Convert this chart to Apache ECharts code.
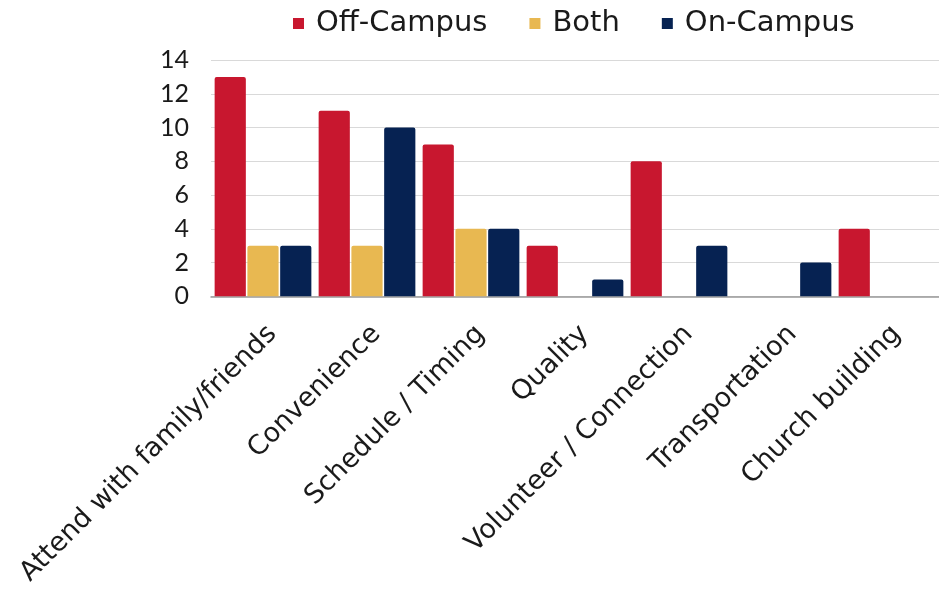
<!DOCTYPE html>
<html><head><meta charset="utf-8">
<script src="https://cdn.jsdelivr.net/npm/echarts@6/dist/echarts.min.js"></script>
<style>html,body{margin:0;padding:0;background:#fff}#c{width:939px;height:589px}</style>
</head><body><div id="c"></div>
<script>
const categories = ["Attend with family/friends","Convenience","Schedule / Timing","Quality","Volunteer / Connection","Transportation","Church building"];
const offCampus = [13, 11, 9, 3, 8, 0, 4];
const both = [3, 3, 4, 0, 0, 0, 0];
const onCampus = [3, 10, 4, 1, 3, 2, 0];
const seriesNames = ["Off-Campus","Both","On-Campus"];
const colors = ["#C8172F","#E8B851","#062252"];
const chart = echarts.init(document.getElementById('c'));
const mk = (name, data, color) => ({
  name, type: 'bar', data, barGap: '5%', barCategoryGap: '7%',
  itemStyle: {color, borderRadius: [2,2,0,0]}
});
chart.setOption({
  animation: false,
  color: colors,
  legend: {
    top: 4, left: 288, itemWidth: 11, itemHeight: 11, itemGap: 42,
    icon: 'rect',
    textStyle: {fontFamily: 'DejaVu Sans', fontSize: 29, color: '#1a1a1a', padding: [0,0,0,7]},
    data: seriesNames
  },
  grid: {left: 211, right: -3, top: 60, bottom: 291, containLabel: false},
  xAxis: {
    type: 'category', data: categories,
    axisTick: {show: false},
    axisLine: {lineStyle: {color: '#999', width: 1.5}},
    axisLabel: {rotate: 45, interval: 0, fontFamily: 'DejaVu Sans', fontSize: 27, color: '#1a1a1a', margin: 24, verticalAlign: 'top'}
  },
  yAxis: {
    type: 'value', min: 0, max: 14, interval: 2,
    axisLine: {show: false}, axisTick: {show: false},
    splitLine: {lineStyle: {color: '#d9d9d9', width: 1}},
    axisLabel: {fontFamily: 'Lato', fontSize: 25, color: '#1a1a1a', margin: 22}
  },
  series: [mk(seriesNames[0], offCampus, colors[0]), mk(seriesNames[1], both, colors[1]), mk(seriesNames[2], onCampus, colors[2])]
});
</script></body></html>
